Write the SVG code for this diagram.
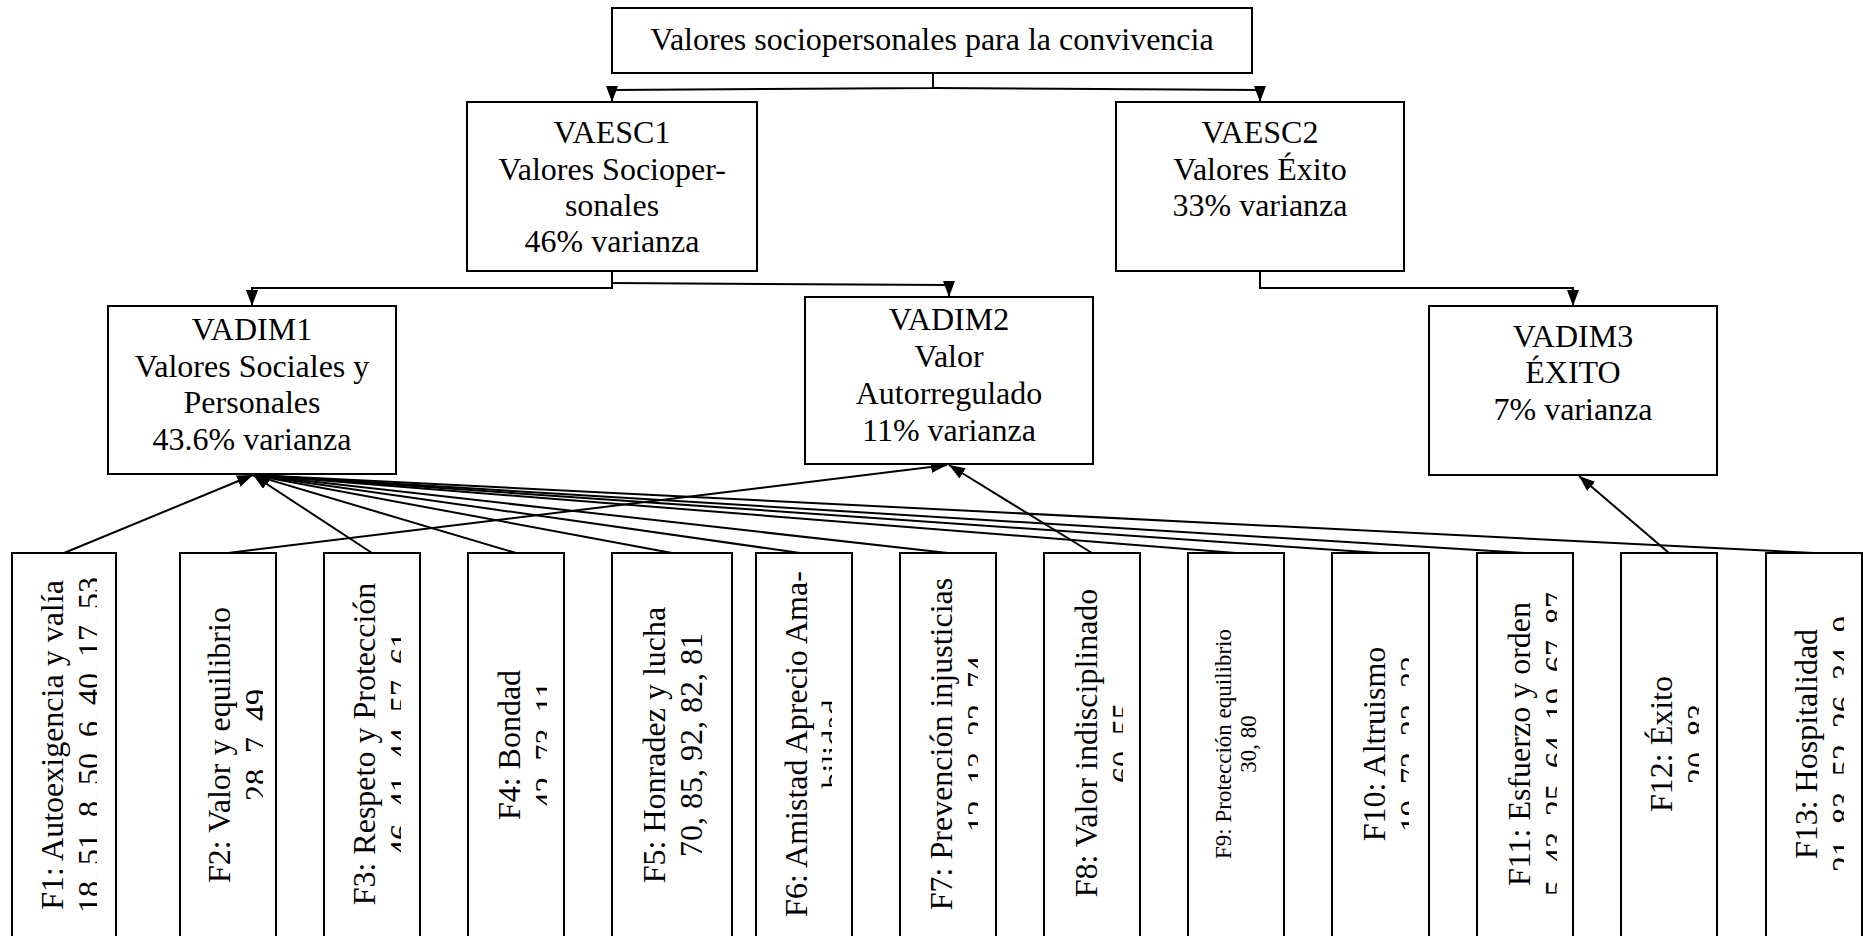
<svg xmlns="http://www.w3.org/2000/svg" width="1863" height="936" viewBox="0 0 1863 936">
<style>
.box{fill:#fff;stroke:#000;stroke-width:2}
.t{font-family:"Liberation Serif","Times New Roman",serif;font-size:32px;fill:#000;text-anchor:middle}
.s{font-size:23px}
.c{fill:none;stroke:#000;stroke-width:2}
</style>
<defs>
<marker id="ah" markerUnits="userSpaceOnUse" markerWidth="16" markerHeight="12" refX="16" refY="6" orient="auto">
<path d="M0,0 L16,6 L0,12 z" fill="#000"/>
</marker>
<clipPath id="k1"><rect x="12" y="553" width="85" height="400"/></clipPath>
<clipPath id="k2"><rect x="180" y="553" width="83" height="400"/></clipPath>
<clipPath id="k3"><rect x="324" y="553" width="77" height="400"/></clipPath>
<clipPath id="k4"><rect x="468" y="553" width="79" height="400"/></clipPath>
<clipPath id="k6"><rect x="756" y="553" width="76" height="400"/></clipPath>
<clipPath id="k7"><rect x="900" y="553" width="78" height="400"/></clipPath>
<clipPath id="k8"><rect x="1044" y="553" width="79" height="400"/></clipPath>
<clipPath id="k10"><rect x="1332" y="553" width="77" height="400"/></clipPath>
<clipPath id="k11"><rect x="1477" y="553" width="80" height="400"/></clipPath>
<clipPath id="k12"><rect x="1621" y="553" width="78" height="400"/></clipPath>
<clipPath id="k13"><rect x="1766" y="553" width="78" height="400"/></clipPath>
</defs>
<rect width="1863" height="936" fill="#fff"/>

<g id="connectors">
<path class="c" d="M933,73 V88 L612,90 V102" marker-end="url(#ah)"/>
<path class="c" d="M933,88 L1260,90 V102" marker-end="url(#ah)"/>
<path class="c" d="M612,271 V288 H252 V306" marker-end="url(#ah)"/>
<path class="c" d="M612,283 L949,285 V297" marker-end="url(#ah)"/>
<path class="c" d="M1260,271 V288 H1573 V306" marker-end="url(#ah)"/>
<line class="c" x1="64" y1="553" x2="253" y2="475" marker-end="url(#ah)"/>
<line class="c" x1="372" y1="553" x2="253" y2="475" marker-end="url(#ah)"/>
<line class="c" x1="516" y1="553" x2="253" y2="475" marker-end="url(#ah)"/>
<line class="c" x1="672" y1="553" x2="253" y2="475" marker-end="url(#ah)"/>
<line class="c" x1="800" y1="553" x2="253" y2="475" marker-end="url(#ah)"/>
<line class="c" x1="948" y1="553" x2="253" y2="475" marker-end="url(#ah)"/>
<line class="c" x1="1236" y1="553" x2="253" y2="475" marker-end="url(#ah)"/>
<line class="c" x1="1380" y1="553" x2="253" y2="475" marker-end="url(#ah)"/>
<line class="c" x1="1525" y1="553" x2="253" y2="475" marker-end="url(#ah)"/>
<line class="c" x1="1814" y1="553" x2="253" y2="475" marker-end="url(#ah)"/>
<line class="c" x1="228" y1="553" x2="947" y2="465" marker-end="url(#ah)"/>
<line class="c" x1="1092" y1="553" x2="949" y2="465" marker-end="url(#ah)"/>
<line class="c" x1="1669" y1="553" x2="1579" y2="476" marker-end="url(#ah)"/>
</g>

<g id="root">
<rect class="box" x="612" y="8" width="640" height="65"/>
<text class="t" x="932" y="50">Valores sociopersonales para la convivencia</text>
</g>
<g id="vaesc1">
<rect class="box" x="467" y="102" width="290" height="169"/>
<text class="t"><tspan x="612" y="143">VAESC1</tspan><tspan x="612" y="180">Valores Socioper-</tspan><tspan x="612" y="216">sonales</tspan><tspan x="612" y="252">46% varianza</tspan></text>
</g>
<g id="vaesc2">
<rect class="box" x="1116" y="102" width="288" height="169"/>
<text class="t"><tspan x="1260" y="143">VAESC2</tspan><tspan x="1260" y="180">Valores Éxito</tspan><tspan x="1260" y="216">33% varianza</tspan></text>
</g>
<g id="vadim1">
<rect class="box" x="108" y="306" width="288" height="168"/>
<text class="t"><tspan x="252" y="340">VADIM1</tspan><tspan x="252" y="377">Valores Sociales y</tspan><tspan x="252" y="413">Personales</tspan><tspan x="252" y="450">43.6% varianza</tspan></text>
</g>
<g id="vadim2">
<rect class="box" x="805" y="297" width="288" height="167"/>
<text class="t"><tspan x="949" y="330">VADIM2</tspan><tspan x="949" y="367">Valor</tspan><tspan x="949" y="404">Autorregulado</tspan><tspan x="949" y="441">11% varianza</tspan></text>
</g>
<g id="vadim3">
<rect class="box" x="1429" y="306" width="288" height="169"/>
<text class="t"><tspan x="1573" y="347">VADIM3</tspan><tspan x="1573" y="383">ÉXITO</tspan><tspan x="1573" y="420">7% varianza</tspan></text>
</g>

<g id="f1">
<rect class="box" x="12" y="553" width="104" height="400"/>
<g clip-path="url(#k1)"><text class="t" transform="translate(63,745) rotate(-90)"><tspan x="0" y="0">F1: Autoexigencia y valía</tspan><tspan x="0" y="37">18, 51, 8, 50, 6, 40, 17, 53</tspan></text></g>
</g>
<g id="f2">
<rect class="box" x="180" y="553" width="96" height="400"/>
<g clip-path="url(#k2)"><text class="t" transform="translate(230,745) rotate(-90)"><tspan x="0" y="0">F2: Valor y equilibrio</tspan><tspan x="0" y="37">28, 7, 49</tspan></text></g>
</g>
<g id="f3">
<rect class="box" x="324" y="553" width="96" height="400"/>
<g clip-path="url(#k3)"><text class="t" transform="translate(375,744) rotate(-90)"><tspan x="0" y="0">F3: Respeto y Protección</tspan><tspan x="0" y="37">46, 41, 44, 57, 61</tspan></text></g>
</g>
<g id="f4">
<rect class="box" x="468" y="553" width="96" height="400"/>
<g clip-path="url(#k4)"><text class="t" transform="translate(520,745) rotate(-90)"><tspan x="0" y="0">F4: Bondad</tspan><tspan x="0" y="37">42, 73, 11</tspan></text></g>
</g>
<g id="f5">
<rect class="box" x="612" y="553" width="120" height="400"/>
<text class="t" transform="translate(665,745) rotate(-90)"><tspan x="0" y="0">F5: Honradez y lucha</tspan><tspan x="0" y="37">70, 85, 92, 82, 81</tspan></text>
</g>
<g id="f6">
<rect class="box" x="756" y="553" width="96" height="400"/>
<g clip-path="url(#k6)"><text class="t" transform="translate(807,744) rotate(-90)"><tspan x="0" y="0">F6: Amistad Aprecio Ama-</tspan><tspan x="0" y="37">bilidad</tspan></text></g>
</g>
<g id="f7">
<rect class="box" x="900" y="553" width="96" height="400"/>
<g clip-path="url(#k7)"><text class="t" transform="translate(952,744) rotate(-90)"><tspan x="0" y="0">F7: Prevención injusticias</tspan><tspan x="0" y="37">12, 13, 22, 74</tspan></text></g>
</g>
<g id="f8">
<rect class="box" x="1044" y="553" width="96" height="400"/>
<g clip-path="url(#k8)"><text class="t" transform="translate(1097,743) rotate(-90)"><tspan x="0" y="0">F8: Valor indisciplinado</tspan><tspan x="0" y="37">60, 55</tspan></text></g>
</g>
<g id="f9">
<rect class="box" x="1188" y="553" width="96" height="400"/>
<text class="t s" transform="translate(1231,744) rotate(-90)"><tspan x="0" y="0">F9: Protección equilibrio</tspan><tspan x="0" y="25">30, 80</tspan></text>
</g>
<g id="f10">
<rect class="box" x="1332" y="553" width="97" height="400"/>
<g clip-path="url(#k10)"><text class="t" transform="translate(1385,744) rotate(-90)"><tspan x="0" y="0">F10: Altruismo</tspan><tspan x="0" y="37">19, 72, 22, 33</tspan></text></g>
</g>
<g id="f11">
<rect class="box" x="1477" y="553" width="96" height="400"/>
<g clip-path="url(#k11)"><text class="t" transform="translate(1530,744) rotate(-90)"><tspan x="0" y="0">F11: Esfuerzo y orden</tspan><tspan x="0" y="37">5, 43, 25, 64, 19, 67, 87</tspan></text></g>
</g>
<g id="f12">
<rect class="box" x="1621" y="553" width="96" height="400"/>
<g clip-path="url(#k12)"><text class="t" transform="translate(1672,744) rotate(-90)"><tspan x="0" y="0">F12: Éxito</tspan><tspan x="0" y="37">20, 83</tspan></text></g>
</g>
<g id="f13">
<rect class="box" x="1766" y="553" width="96" height="400"/>
<g clip-path="url(#k13)"><text class="t" transform="translate(1817,744) rotate(-90)"><tspan x="0" y="0">F13: Hospitalidad</tspan><tspan x="0" y="37">21, 83, 52, 26, 34, 9</tspan></text></g>
</g>
</svg>
